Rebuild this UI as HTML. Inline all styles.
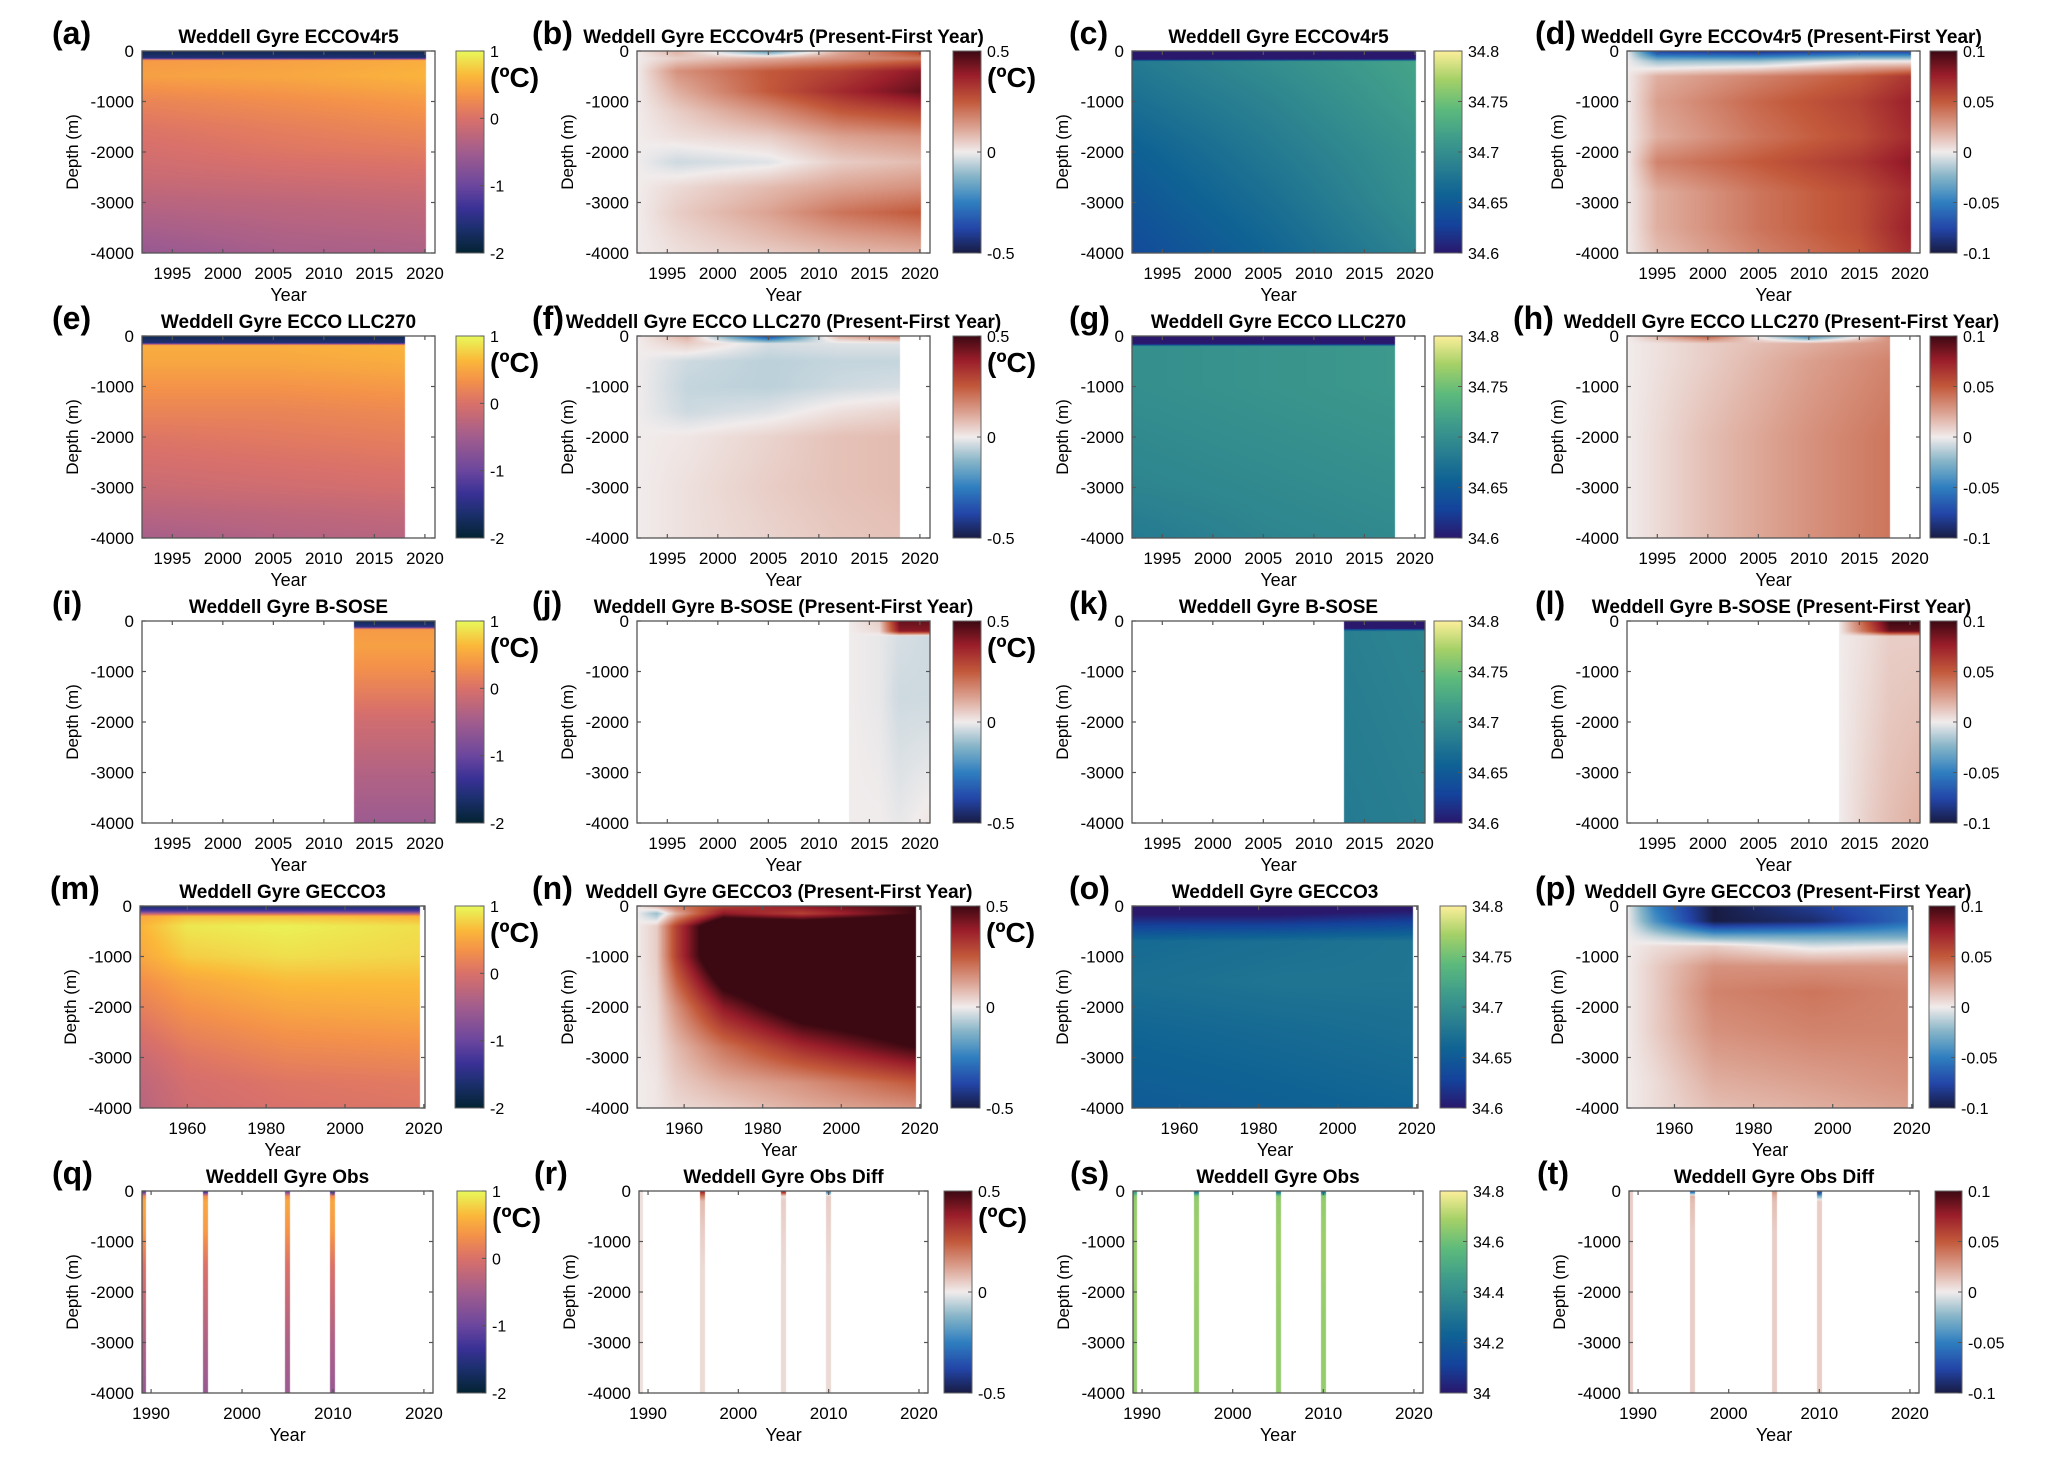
<!DOCTYPE html>
<html><head><meta charset="utf-8">
<style>
html,body{margin:0;padding:0;background:#fff;}
#root{position:relative;width:2067px;height:1482px;overflow:hidden;background:#fff;}
canvas{position:absolute;}
svg{position:absolute;left:0;top:0;}
text{font-family:"Liberation Sans",Arial,sans-serif;fill:#000;}
</style></head>
<body>
<div id="root">
<svg id="ov" width="2067" height="1482"></svg>
</div>
<script>
// ===== DATA =====
const yrsA=[1992,2006,2020];
const depA=[0,140,180,500,1000,1500,2000,2500,3000,3500,4000];
const valA=[[-1.8,-1.8,-1.8],[-1.6,-1.6,-1.6],[0.4,0.45,0.55],[0.45,0.5,0.6],[0.2,0.3,0.4],[0.05,0.15,0.25],[-0.05,0.05,0.1],[-0.15,-0.1,-0.05],[-0.3,-0.25,-0.2],[-0.45,-0.35,-0.3],[-0.6,-0.45,-0.4]];
const yrsB=[1992,1996,2005,2012,2020];
const depB=[0,150,400,800,1200,1700,2200,2700,3200,3700,4000];
const valB=[[0,0.1,-0.2,0.1,0.3],[0,0.05,0.1,0.15,0.2],[0,0.15,0.25,0.3,0.4],[0,0.1,0.25,0.35,0.45],[0,0.05,0.15,0.25,0.3],[0,0.02,0.05,0.12,0.15],[0,-0.04,-0.02,0.05,0.08],[0,0.03,0.08,0.12,0.15],[0,0.05,0.12,0.2,0.25],[0,0.03,0.08,0.12,0.15],[0,0.02,0.05,0.08,0.1]];
const yrsC=[1992,2006,2020];
const depC=[0,150,200,1000,2000,3000,4000];
const valC=[[34.55,34.55,34.55],[34.56,34.56,34.56],[34.68,34.7,34.72],[34.67,34.69,34.715],[34.655,34.68,34.705],[34.645,34.67,34.7],[34.635,34.66,34.69]];
const yrsD=[1992,1995,2005,2015,2020];
const depD=[0,200,500,1000,1700,2200,2800,3500,4000];
const valD=[[0,-0.08,-0.09,-0.08,-0.08],[0,-0.02,-0.02,0,0],[0,0.02,0.035,0.05,0.065],[0,0.025,0.045,0.06,0.075],[0,0.02,0.04,0.055,0.07],[0,0.035,0.05,0.065,0.08],[0,0.02,0.04,0.055,0.07],[0,0.02,0.04,0.055,0.075],[0,0.015,0.035,0.05,0.07]];
const yrsE=[1992,2005,2018];
const depE=[0,140,180,500,1000,1500,2000,2500,3000,3500,4000];
const valE=[[-1.8,-1.8,-1.8],[-1.6,-1.6,-1.6],[0.55,0.55,0.6],[0.5,0.5,0.55],[0.35,0.35,0.4],[0.2,0.2,0.25],[0.05,0.1,0.15],[-0.05,0,0.05],[-0.15,-0.1,-0.05],[-0.3,-0.25,-0.2],[-0.45,-0.35,-0.3]];
const yrsF=[1992,1997,2005,2012,2018];
const depF=[0,150,500,1000,1500,2000,3000,4000];
const valF=[[0,0.1,-0.4,0.1,0.2],[0,0.05,-0.03,-0.02,-0.02],[0,-0.04,-0.06,-0.05,-0.05],[0,-0.05,-0.06,-0.04,-0.03],[0,-0.04,-0.02,0.02,0.04],[0,0.01,0.04,0.07,0.08],[0,0.02,0.05,0.07,0.08],[0,0.02,0.04,0.06,0.07]];
const yrsG=[1992,2005,2018];
const depG=[0,150,200,1000,2000,3000,4000];
const valG=[[34.56,34.56,34.56],[34.57,34.57,34.57],[34.7,34.705,34.71],[34.7,34.705,34.71],[34.695,34.7,34.705],[34.69,34.695,34.7],[34.68,34.69,34.695]];
const yrsH=[1992,2000,2010,2018];
const depH=[0,150,500,2000,4000];
const valH=[[0,0.05,-0.05,0.03],[0,0.01,0.02,0.03],[0,0.01,0.025,0.035],[0,0.015,0.03,0.04],[0,0.015,0.03,0.04]];
const yrsI=[2013,2021];
const depI=[0,120,160,500,1000,2000,3000,4000];
const valI=[[-1.8,-1.8],[-1.5,-1.5],[0.4,0.4],[0.45,0.45],[0.3,0.3],[-0.1,-0.1],[-0.35,-0.35],[-0.55,-0.55]];
const yrsJ=[2013,2016,2018,2021];
const depJ=[0,200,300,1500,4000];
const valJ=[[0,0.05,0.45,0.45],[0,0.03,0.4,0.4],[0,-0.01,-0.03,-0.04],[0,-0.01,-0.04,-0.04],[0,0,-0.01,0.01]];
const yrsK=[2013,2021];
const depK=[0,150,200,4000];
const valK=[[34.58,34.58],[34.6,34.6],[34.685,34.69],[34.68,34.685]];
const yrsL=[2013,2016,2018,2021];
const depL=[0,200,300,4000];
const valL=[[0,0.06,0.1,0.1],[0,0.05,0.09,0.09],[0,0.005,0.01,0.01],[0,0.01,0.015,0.02]];
const yrsM=[1948,1960,1985,2019];
const depM=[0,100,200,400,1000,1500,2000,2500,3000,3500,4000];
const valM=[[-1.7,-1.7,-1.7,-1.7],[-1.2,-1.2,-1.2,-1.2],[0.5,0.7,0.7,0.6],[0.6,0.9,0.95,0.85],[0.5,0.75,0.85,0.8],[0.3,0.5,0.65,0.65],[0.15,0.35,0.5,0.55],[0,0.2,0.35,0.4],[-0.15,0.05,0.2,0.25],[-0.25,-0.05,0.05,0.1],[-0.3,-0.1,0,0.05]];
const yrsN=[1948,1953,1958,1970,1990,2019];
const depN=[0,150,400,1000,2000,2800,3500,4000];
const valN=[[0,0.1,0.2,0.3,0.4,0.5],[0,-0.1,0.1,0.4,0.3,0.5],[0,0.05,0.3,0.7,0.7,0.7],[0,0.05,0.3,0.7,0.8,0.8],[0,0.03,0.15,0.4,0.6,0.7],[0,0.02,0.08,0.2,0.35,0.5],[0,0.01,0.05,0.1,0.15,0.25],[0,0.01,0.03,0.05,0.1,0.15]];
const yrsO=[1948,1985,2019];
const depO=[0,250,700,1500,2500,4000];
const valO=[[34.58,34.58,34.59],[34.61,34.61,34.62],[34.665,34.67,34.675],[34.67,34.675,34.675],[34.66,34.665,34.67],[34.65,34.655,34.66]];
const yrsP=[1948,1955,1970,1995,2019];
const depP=[0,300,600,800,1200,1700,2500,3500,4000];
const valP=[[0,-0.05,-0.1,-0.08,-0.06],[0,-0.04,-0.1,-0.09,-0.06],[0,-0.01,-0.03,-0.03,-0.03],[0,0.005,0.01,-0.005,0],[0,0.01,0.03,0.03,0.03],[0,0.01,0.035,0.04,0.035],[0,0.01,0.03,0.035,0.035],[0,0.005,0.02,0.025,0.03],[0,0.005,0.015,0.02,0.025]];
const obsYears=[1989.2,1996,2005,2010];
const obsDepths=[0,100,200,800,1500,3000,4000];
const obsTemp=[[-1.6,0.3,0.5,0.4,0,-0.4,-0.6],[-1.8,0.3,0.5,0.4,0,-0.4,-0.6],[-1.2,0.3,0.5,0.35,0,-0.4,-0.55],[-1.8,0.3,0.5,0.4,0,-0.4,-0.6]];
const obsTempDiff=[[0.02,0.02,0.02,0.02,0.02,0.02,0.02],[0.4,0.2,0.08,0.05,0.03,0.03,0.03],[0.45,0.02,0.05,0.04,0.03,0.03,0.03],[-0.3,0.05,0.05,0.04,0.03,0.03,0.03]];
const obsSal=[[34.4,34.64,34.66,34.67,34.67,34.66,34.66],[34.2,34.64,34.66,34.67,34.67,34.66,34.66],[34.2,34.64,34.66,34.67,34.67,34.66,34.66],[34.2,34.64,34.66,34.67,34.67,34.66,34.66]];
const obsSalDiff=[[0.01,0.01,0.01,0.01,0.01,0.01,0.01],[-0.08,0.02,0.015,0.01,0.01,0.01,0.01],[0.03,0.02,0.015,0.01,0.01,0.01,0.01],[-0.09,-0.03,0.01,0.01,0.01,0.01,0.01]];

// ===== COLORMAPS =====
function hx(h){return [parseInt(h.substr(1,2),16),parseInt(h.substr(3,2),16),parseInt(h.substr(5,2),16)];}
function cmap(stops){const s=stops.map(a=>[a[0],hx(a[1])]);return function(t){if(t<=0)return s[0][1];if(t>=1)return s[s.length-1][1];for(let i=1;i<s.length;i++){if(t<=s[i][0]){const f=(t-s[i-1][0])/(s[i][0]-s[i-1][0]);const a=s[i-1][1],b=s[i][1];return [a[0]+(b[0]-a[0])*f,a[1]+(b[1]-a[1])*f,a[2]+(b[2]-a[2])*f];}}return s[s.length-1][1];};}
const thermal=cmap([[0,'#032333'],[0.12,'#1c2f6d'],[0.22,'#3a3196'],[0.33,'#6a469e'],[0.5,'#a25d8e'],[0.667,'#da716a'],[0.78,'#f4924a'],[0.88,'#fbb93a'],[1,'#e8fa5b']]);
const balance=cmap([[0,'#181c43'],[0.12,'#2345a8'],[0.25,'#2f7fc0'],[0.38,'#86b5c8'],[0.5,'#f1ecec'],[0.62,'#dca392'],[0.75,'#c3593b'],[0.88,'#9a1e2b'],[1,'#3c0912']]);
const haline=cmap([[0,'#2a186c'],[0.14,'#14439c'],[0.29,'#0f6394'],[0.43,'#2a8090'],[0.57,'#3f9d8b'],[0.71,'#5cba7c'],[0.86,'#a6d168'],[1,'#fdef9a']]);

function interp1(xs,x){if(x<=xs[0])return [0,0,0];const n=xs.length;if(x>=xs[n-1])return [n-1,n-1,0];for(let i=1;i<n;i++){if(x<=xs[i])return [i-1,i,(x-xs[i-1])/(xs[i]-xs[i-1])];}}
function field(ys,ds,vals,yr,d){const a=interp1(ys,yr),b=interp1(ds,d);const v00=vals[b[0]][a[0]],v01=vals[b[0]][a[1]],v10=vals[b[1]][a[0]],v11=vals[b[1]][a[1]];const top=v00+(v01-v00)*a[2],bot=v10+(v11-v10)*a[2];return top+(bot-top)*b[2];}
function prof(ds,vals,d){const b=interp1(ds,d);return vals[b[0]]+(vals[b[1]]-vals[b[0]])*b[2];}

// ===== LAYOUT =====
const rowTop=[51,336,621,906,1191];const PH=202;
const letterOff=[-90,-105,-63,-92];
const NS='http://www.w3.org/2000/svg';const ov=document.getElementById('ov');const root=document.getElementById('root');
function T(x,y,s,opt){const t=document.createElementNS(NS,'text');t.setAttribute('x',x);t.setAttribute('y',y);t.textContent=s;t.setAttribute('font-size',opt.fs||17);if(opt.bold)t.setAttribute('font-weight','bold');if(opt.anchor)t.setAttribute('text-anchor',opt.anchor);if(opt.rot)t.setAttribute('transform','rotate(-90 '+x+' '+y+')');ov.appendChild(t);return t;}
function L(x1,y1,x2,y2,c,w){const l=document.createElementNS(NS,'line');l.setAttribute('x1',x1);l.setAttribute('y1',y1);l.setAttribute('x2',x2);l.setAttribute('y2',y2);l.setAttribute('stroke',c||'#555');l.setAttribute('stroke-width',w||1.2);ov.appendChild(l);return l;}

const tempCB={cm:thermal,lo:-2,hi:1,ticks:[1,0,-1,-2],labels:['1','0','-1','-2'],unit:true};
const dTCB={cm:balance,lo:-0.5,hi:0.5,ticks:[0.5,0,-0.5],labels:['0.5','0','-0.5'],unit:true};
const salCB={cm:haline,lo:34.6,hi:34.8,ticks:[34.8,34.75,34.7,34.65,34.6],labels:['34.8','34.75','34.7','34.65','34.6'],unit:false};
const dSCB={cm:balance,lo:-0.1,hi:0.1,ticks:[0.1,0.05,0,-0.05,-0.1],labels:['0.1','0.05','0','-0.05','-0.1'],unit:false};
const obsSalCB={cm:haline,lo:34,hi:34.8,ticks:[34.8,34.6,34.4,34.2,34],labels:['34.8','34.6','34.4','34.2','34'],unit:false};

const xR1={x0:1992,x1:2021,ticks:[1995,2000,2005,2010,2015,2020]};
const xG={x0:1948,x1:2020.3,ticks:[1960,1980,2000,2020]};
const xO={x0:1989,x1:2021,ticks:[1990,2000,2010,2020]};

const panels=[
 {id:'a',row:0,col:0,L:142,R:435,cbL:456,cbR:484,title:'Weddell Gyre ECCOv4r5',cb:tempCB,x:xR1,ys:yrsA,ds:depA,v:valA,d0:1992,d1:2020.1},
 {id:'b',row:0,col:1,L:637,R:930,cbL:953,cbR:981,title:'Weddell Gyre ECCOv4r5 (Present-First Year)',cb:dTCB,x:xR1,ys:yrsB,ds:depB,v:valB,d0:1992,d1:2020.1},
 {id:'c',row:0,col:2,L:1132,R:1425,cbL:1434,cbR:1462,title:'Weddell Gyre ECCOv4r5',cb:salCB,x:xR1,ys:yrsC,ds:depC,v:valC,d0:1992,d1:2020.1},
 {id:'d',row:0,col:3,L:1627,R:1920,cbL:1930,cbR:1957,title:'Weddell Gyre ECCOv4r5 (Present-First Year)',cb:dSCB,x:xR1,ys:yrsD,ds:depD,v:valD,d0:1992,d1:2020.1},
 {id:'e',row:1,col:0,L:142,R:435,cbL:456,cbR:484,title:'Weddell Gyre ECCO LLC270',cb:tempCB,x:xR1,ys:yrsE,ds:depE,v:valE,d0:1992,d1:2018},
 {id:'f',row:1,col:1,L:637,R:930,cbL:953,cbR:981,title:'Weddell Gyre ECCO LLC270 (Present-First Year)',cb:dTCB,x:xR1,ys:yrsF,ds:depF,v:valF,d0:1992,d1:2018},
 {id:'g',row:1,col:2,L:1132,R:1425,cbL:1434,cbR:1462,title:'Weddell Gyre ECCO LLC270',cb:salCB,x:xR1,ys:yrsG,ds:depG,v:valG,d0:1992,d1:2018},
 {id:'h',row:1,col:3,L:1627,R:1920,cbL:1930,cbR:1957,title:'Weddell Gyre ECCO LLC270 (Present-First Year)',cb:dSCB,x:xR1,ys:yrsH,ds:depH,v:valH,d0:1992,d1:2018,loff:-114},
 {id:'i',row:2,col:0,L:142,R:435,cbL:456,cbR:484,title:'Weddell Gyre B-SOSE',cb:tempCB,x:xR1,ys:yrsI,ds:depI,v:valI,d0:2013,d1:2021},
 {id:'j',row:2,col:1,L:637,R:930,cbL:953,cbR:981,title:'Weddell Gyre B-SOSE (Present-First Year)',cb:dTCB,x:xR1,ys:yrsJ,ds:depJ,v:valJ,d0:2013,d1:2021},
 {id:'k',row:2,col:2,L:1132,R:1425,cbL:1434,cbR:1462,title:'Weddell Gyre B-SOSE',cb:salCB,x:xR1,ys:yrsK,ds:depK,v:valK,d0:2013,d1:2021},
 {id:'l',row:2,col:3,L:1627,R:1920,cbL:1930,cbR:1957,title:'Weddell Gyre B-SOSE (Present-First Year)',cb:dSCB,x:xR1,ys:yrsL,ds:depL,v:valL,d0:2013,d1:2021},
 {id:'m',row:3,col:0,L:140,R:425,cbL:455,cbR:484,title:'Weddell Gyre GECCO3',cb:tempCB,x:xG,ys:yrsM,ds:depM,v:valM,d0:1948,d1:2019},
 {id:'n',row:3,col:1,L:637,R:921,cbL:951,cbR:980,title:'Weddell Gyre GECCO3 (Present-First Year)',cb:dTCB,x:xG,ys:yrsN,ds:depN,v:valN,d0:1948,d1:2019},
 {id:'o',row:3,col:2,L:1132,R:1418,cbL:1440,cbR:1466,title:'Weddell Gyre GECCO3',cb:salCB,x:xG,ys:yrsO,ds:depO,v:valO,d0:1948,d1:2019},
 {id:'p',row:3,col:3,L:1627,R:1913,cbL:1929,cbR:1955,title:'Weddell Gyre GECCO3 (Present-First Year)',cb:dSCB,x:xG,ys:yrsP,ds:depP,v:valP,d0:1948,d1:2019},
 {id:'q',row:4,col:0,L:142,R:433,cbL:457,cbR:486,title:'Weddell Gyre Obs',cb:tempCB,x:xO,obs:obsTemp},
 {id:'r',row:4,col:1,L:639,R:928,cbL:944,cbR:972,title:'Weddell Gyre Obs Diff',cb:dTCB,x:xO,obs:obsTempDiff},
 {id:'s',row:4,col:2,L:1133,R:1423,cbL:1440,cbR:1467,title:'Weddell Gyre Obs',cb:obsSalCB,x:xO,obs:obsSal},
 {id:'t',row:4,col:3,L:1629,R:1919,cbL:1935,cbR:1962,title:'Weddell Gyre Obs Diff',cb:dSCB,x:xO,obs:obsSalDiff}
];

panels.forEach(p=>{
 const top=rowTop[p.row],W=p.R-p.L,H=PH,cb=p.cb;
 const xs=yr=>p.L+(yr-p.x.x0)/(p.x.x1-p.x.x0)*W;
 const col=v=>cb.cm((v-cb.lo)/(cb.hi-cb.lo));
 const cv=document.createElement('canvas');cv.width=W;cv.height=H;cv.style.left=p.L+'px';cv.style.top=top+'px';
 
 
 root.insertBefore(cv,ov);
 const ctx=cv.getContext('2d');const img=ctx.createImageData(W,H);
 if(!p.obs){
  for(let px=0;px<W;px++){const yr=p.x.x0+(px+0.5)/W*(p.x.x1-p.x.x0);if(yr<p.d0||yr>p.d1)continue;
   for(let py=0;py<H;py++){const d=(py+0.5)/H*4000;const c=col(field(p.ys,p.ds,p.v,yr,d));const k=(py*W+px)*4;img.data[k]=c[0];img.data[k+1]=c[1];img.data[k+2]=c[2];img.data[k+3]=255;}}
 } else {
  obsYears.forEach((oy,ci)=>{const cx=xs(oy)-p.L;for(let px=Math.round(cx-2.5);px<Math.round(cx+2.5);px++){if(px<0||px>=W)continue;
   for(let py=0;py<H;py++){const d=(py+0.5)/H*4000;const c=col(prof(obsDepths,p.obs[ci],d));const k=(py*W+px)*4;img.data[k]=c[0];img.data[k+1]=c[1];img.data[k+2]=c[2];img.data[k+3]=255;}}});
 }
 ctx.putImageData(img,0,0);
 const cbw=p.cbR-p.cbL;const cc=document.createElement('canvas');cc.width=cbw;cc.height=H;cc.style.left=p.cbL+'px';cc.style.top=top+'px';
 
 
 root.insertBefore(cc,ov);
 const c2=cc.getContext('2d');for(let py=0;py<H;py++){const c=cb.cm(1-(py+0.5)/H);c2.fillStyle='rgb('+Math.round(c[0])+','+Math.round(c[1])+','+Math.round(c[2])+')';c2.fillRect(0,py,cbw,1);}
 const cbBox=document.createElementNS(NS,'rect');cbBox.setAttribute('x',p.cbL);cbBox.setAttribute('y',top);cbBox.setAttribute('width',cbw);cbBox.setAttribute('height',H);cbBox.setAttribute('fill','none');cbBox.setAttribute('stroke','#666');cbBox.setAttribute('stroke-width',1);
 
 
 ov.appendChild(cbBox);
 cb.ticks.forEach((tv,i)=>{const y=top+(cb.hi-tv)/(cb.hi-cb.lo)*H;L(p.cbR-4,y,p.cbR,y,'#555',1);
  const t=T(p.cbR+6,y+6,cb.labels[i],{fs:16});
  
  });
 if(cb.unit){const u=T(p.cbR+6,top+36,'(ºC)',{fs:28,bold:true});
  
  }
 const box=document.createElementNS(NS,'rect');box.setAttribute('x',p.L);box.setAttribute('y',top);box.setAttribute('width',W);box.setAttribute('height',H);box.setAttribute('fill','none');box.setAttribute('stroke','#555');box.setAttribute('stroke-width',1.3);
 
 
 ov.appendChild(box);
 for(let i=0;i<=4;i++){const y=top+i*H/4;L(p.L,y,p.L+4,y);L(p.R-4,y,p.R,y);
  const t=T(p.L-8,y+6,i==0?'0':'-'+(i*1000),{anchor:'end'});
  
  }
 p.x.ticks.forEach(tv=>{const x=xs(tv);L(x,top+H,x,top+H-4);L(x,top,x,top+4);
  const t=T(x,top+H+26,String(tv),{anchor:'middle'});
  
  });
 const xt=T((p.L+p.R)/2,top+H+48,'Year',{anchor:'middle',fs:18});
 
 
 const yt=T(p.L-64,top+H/2,'Depth (m)',{anchor:'middle',fs:17,rot:true});
 
 
 const isLong=p.title.length>30;
 const tt=T((p.L+p.R)/2+(p.col==3&&isLong?8:0),top-8,p.title,{anchor:'middle',fs:19,bold:true});
 
 
 const lbl=T(p.L+(p.loff!==undefined?p.loff:letterOff[p.col]),top-7,'('+p.id+')',{fs:32,bold:true});
 
 
});
</script>
</body></html>
